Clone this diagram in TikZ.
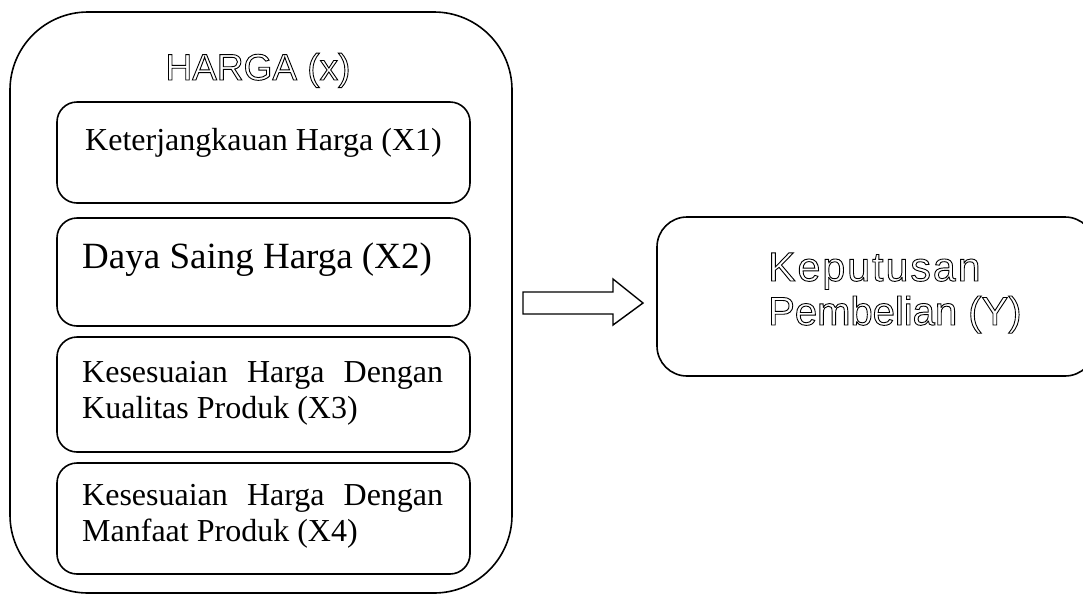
\documentclass[tikz,border=0pt]{standalone}
\usepackage{fontspec}
\setmainfont{Liberation Serif}
\newfontfamily\hollowsans{Liberation Sans}
\newfontfamily\hollowwide[LetterSpace=5]{Liberation Sans}
% outlined (stroked, unfilled) glyphs through the PDF text rendering mode
\newcommand{\hollow}[1]{\special{pdf:literal direct 1 Tr 0.9 w}#1\special{pdf:literal direct 0 Tr}}

\tikzset{
  frame/.style={draw, line width=1.6pt, rounded corners=#1, inner sep=0pt},
  xbox/.style={frame=20pt, minimum width=413pt},
  itemtext/.style={anchor=base west, inner sep=0pt, font=\fontsize{32}{36.5}\selectfont},
  bigtext/.style={anchor=base west, inner sep=0pt, font=\fontsize{37}{42}\selectfont},
  titletext/.style={anchor=base, inner sep=0pt, font=\hollowsans\fontsize{37}{42}\selectfont},
  ytext/.style={anchor=base west, inner sep=0pt, font=\hollowsans\fontsize{40}{46}\selectfont},
  ywide/.style={ytext, font=\hollowwide\fontsize{41}{46}\selectfont},
  blockarrow/.style={draw, line width=1.4pt, line join=miter, fill=white}
}

\begin{document}
\begin{tikzpicture}[x=1pt, y=-1pt]
  \useasboundingbox (0,0) rectangle (1083,595);

  % outer container for the price dimensions
  \node[frame=78pt, minimum width=502pt, minimum height=581pt] (harga) at (261,302.5) {};
  \node[titletext] (hargatitle) at (258,80) {\hollow{HARGA (x)}};

  % four indicator boxes
  \node[xbox, minimum height=101pt] (x1) at (263.5,152.5) {};
  \node[xbox, minimum height=108pt] (x2) at (263.5,272) {};
  \node[xbox, minimum height=115pt] (x3) at (263.5,394.5) {};
  \node[xbox, minimum height=111pt] (x4) at (263.5,518.5) {};

  \node[itemtext] (x1t) at (85,150) {Keterjangkauan Harga (X1)};
  \node[bigtext] (x2t) at (82,268) {Daya Saing Harga (X2)};
  \node[itemtext] (x3a) at (82,382) {\makebox[361pt][s]{Kesesuaian Harga Dengan}};
  \node[itemtext] (x3b) at (82,418.5) {Kualitas Produk (X3)};
  \node[itemtext] (x4a) at (82,505) {\makebox[361pt][s]{Kesesuaian Harga Dengan}};
  \node[itemtext] (x4b) at (82,541.5) {Manfaat Produk (X4)};

  % outcome box
  \node[frame=30pt, minimum width=438pt, minimum height=159pt] (y) at (876,296.5) {};
  \node[ywide] (ya) at (768,281) {\hollow{Keputusan}};
  \node[ytext] (yb) at (768,325) {\hollow{Pembelian (Y)}};

  % hollow block arrow from the price box to the decision box
  \draw[blockarrow] (523,292) -- (613,292) -- (613,279) -- (643,303)
    -- (613,325) -- (613,314) -- (523,314) -- cycle;
\end{tikzpicture}
\end{document}
